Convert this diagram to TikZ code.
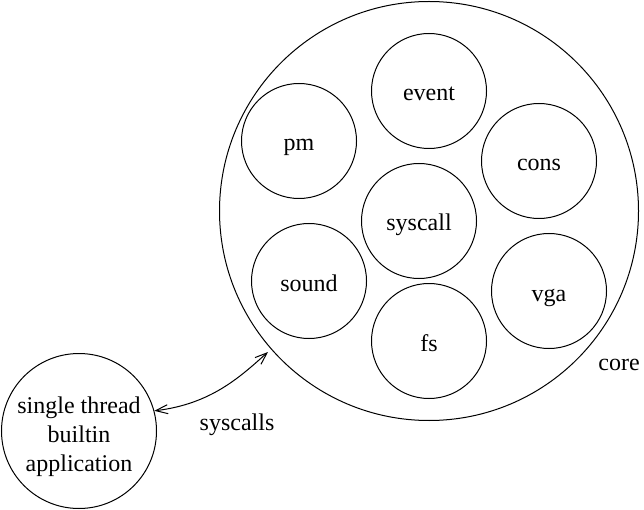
\documentclass[tikz,border=0pt]{standalone}
\usepackage{fontspec}
\setmainfont{Liberation Serif}
\usetikzlibrary{arrows.meta}
\begin{document}
		\begin{tikzpicture}[x=1pt,y=-1pt,line width=1pt,font={\fontsize{24}{29}\selectfont},
			unit/.style={draw,circle,minimum size=115pt,inner sep=0pt,text height=20pt,text depth=0pt},
			>={Straight Barb[length=12pt,width=9pt,line width=1pt]}]
			\useasboundingbox (0,0) rectangle (644,510);
			\node[draw,circle,minimum size=419pt,inner sep=0pt] (core) at (429,211) {};
			\node[unit] (event) at (429,91) {event};
			\node[unit] (pm) at (299,141) {pm};
			\node[unit] (cons) at (539,161) {cons};
			\node[unit] (syscall) at (419,221) {syscall};
			\node[unit] (sound) at (309,281) {sound};
			\node[unit] (vga) at (549,291) {vga};
			\node[unit] (fs) at (429,341) {fs};
			\node[draw,circle,minimum size=155pt,inner sep=0pt,align=center,text height=80pt,text depth=0pt] (app) at (79,431) {single thread\\builtin\\application};
			\node[anchor=base] (corelabel) at (619,370) {core};
			\node[anchor=base] (calls) at (237,430) {syscalls};
			\coordinate (entry) at (268,352);
			\draw[<->] (app.15) .. controls (211,404) and (240,377) .. (entry);
		\end{tikzpicture}
\end{document}
